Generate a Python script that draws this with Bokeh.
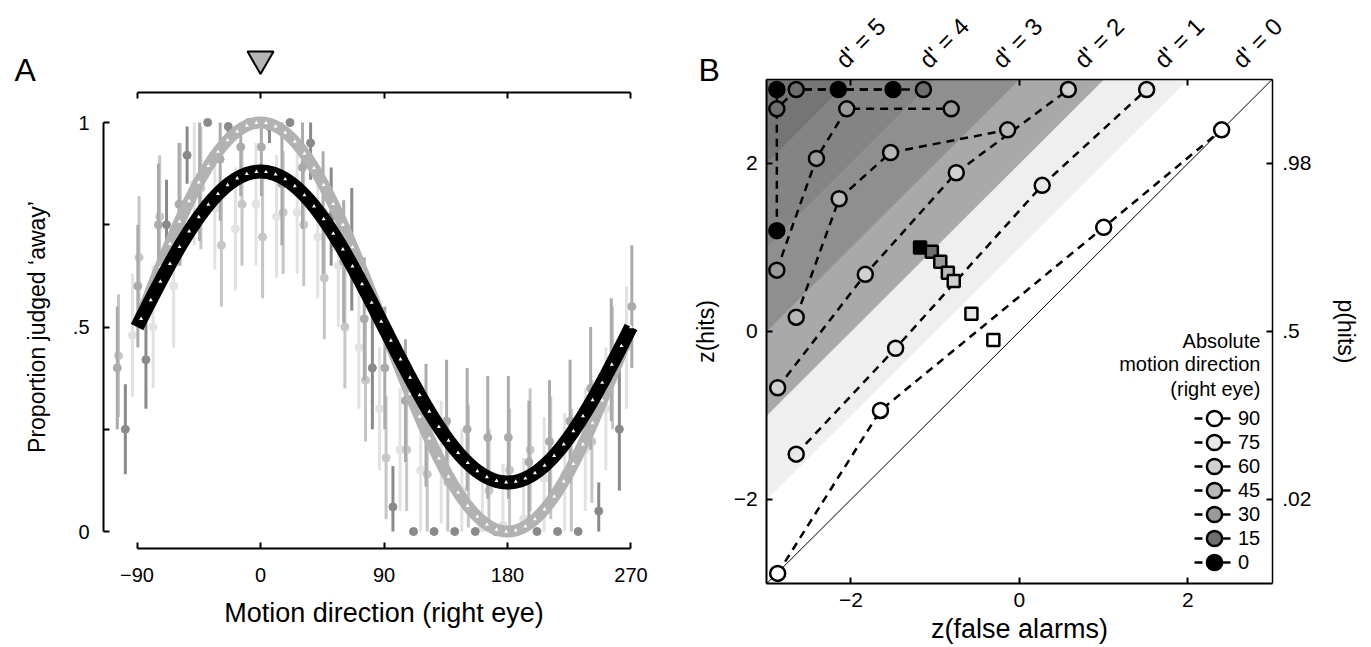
import numpy as np
from bokeh.plotting import figure
from bokeh.models import (LinearAxis, FixedTicker, Range1d, Label, LabelSet, ColumnDataSource,
                          Legend, LegendItem)
from bokeh.layouts import row
from bokeh.embed import file_html
from bokeh.resources import INLINE
from bokeh.core.properties import value

FONT = "Liberation Sans"

# ---------------- Panel A data ----------------
dir_ticks = [-90, 0, 90, 180, 270]
dir_tick_labels = ["\u221290", "0", "90", "180", "270"]
prop_ticks = [0, 0.5, 1]
prop_tick_labels = ["0", ".5", "1"]
prop_minor_ticks = [0.25, 0.75]
reference_direction = [0]

dark_x = [-98.5, -83.5, -68.5, -53.5, -38.5, -23.5, -8.5, 6.5, 21.5, 36.5, 51.5, 66.5, 81.5,
          96.5, 111.5, 126.5, 141.5, 156.5, 171.5, 186.5, 201.5, 216.5, 231.5, 246.5, 261.5]
dark_y = [0.25, 0.42, 0.75, 0.92, 1.0, 0.99, 1.0, 0.99, 1.0, 0.95, 0.77, 0.69, 0.40,
          0.06, 0, 0, 0, 0, 0, 0, 0, 0, 0, 0.05, 0.25]
dark_err = [0.11, 0.12, 0.11, 0.07, 0, 0.04, 0, 0.04, 0, 0.09, 0.12, 0.15, 0.15,
            0.1, 0, 0, 0, 0, 0, 0, 0, 0, 0, 0.07, 0.15]

mid_x = [-104.4, -89.4, -74.4, -59.4, -44.4, -29.4, -14.4, 0.6, 15.6, 30.6, 45.6, 60.6, 75.6,
         90.6, 105.6, 120.6, 135.6, 150.6, 165.6, 180.6, 195.6, 210.6, 225.6, 240.6, 255.6, 270.6]
mid_y = [0.40, 0.60, 0.75, 0.80, 0.86, 0.91, 0.94, 0.94, 0.85, 0.89, 0.78, 0.66, 0.52,
         0.40, 0.32, 0.26, 0.27, 0.25, 0.23, 0.23, 0.17, 0.22, 0.27, 0.35, 0.42, 0.55]
mid_err = [0.15, 0.15, 0.15, 0.15, 0.15, 0.15, 0.12, 0.12, 0.15, 0.15, 0.15, 0.15, 0.15,
           0.15, 0.15, 0.15, 0.15, 0.15, 0.15, 0.15, 0.15, 0.15, 0.15, 0.15, 0.15, 0.15]

light_x = [-103.5, -88.5, -73.5, -58.5, -43.5, -28.5, -13.5, 1.5, 16.5, 31.5, 46.5, 61.5, 76.5,
           91.5, 106.5, 121.5, 136.5, 151.5, 166.5, 181.5, 196.5, 211.5, 226.5, 241.5, 256.5]
light_y = [0.43, 0.67, 0.77, 0.80, 0.84, 0.70, 0.80, 0.72, 0.78, 0.75, 0.62, 0.50, 0.37,
           0.18, 0.20, 0.14, 0.12, 0.16, 0.10, 0.15, 0.20, 0.18, 0.15, 0.22, 0.40]
light_err = [0.15] * 25

vlight_x = [-93.3, -78.3, -63.3, -48.3, -33.3, -18.3, -3.3, 11.7, 26.7, 41.7, 56.7, 71.7, 86.7,
            101.7, 116.7, 131.7, 146.7, 161.7, 176.7, 191.7, 206.7, 221.7, 236.7, 251.7, 266.7]
vlight_y = [0.48, 0.50, 0.60, 0.85, 0.79, 0.74, 0.80, 0.77, 0.78, 0.72, 0.65, 0.45, 0.30,
            0.20, 0.15, 0.17, 0.10, 0.01, 0.015, 0.03, 0.13, 0.14, 0.20, 0.30, 0.45]
vlight_err = [0.15] * 25

# fitted sinusoids: baseline, amplitude (peak at 0 deg)
fit_gray_params = [0.5, 0.50]
fit_black_params = [0.5, 0.38]

# ---------------- Panel B data ----------------
z_limits = [-3, 3]
z_ticks = [-2, 0, 2]
z_tick_labels = ["\u22122", "0", "2"]
p_tick_labels = [".02", ".5", ".98"]
dprime_names = ["d' = 5", "d' = 4", "d' = 3", "d' = 2", "d' = 1", "d' = 0"]
dprime_label_x = [-2.02, -1.03, -0.16, 0.81, 1.76, 2.69]
dprime_label_y = [3.075] * 6
band_edges = [1, 2, 3, 4, 5, 6]
band_colors = ["#efefef", "#a9a9a9", "#8f8f8f", "#848484", "#757575"]

directions = [90, 75, 60, 45, 30, 15, 0]
direction_fill = ["#ffffff", "#e8e8e8", "#d0d0d0", "#b8b8b8", "#9a9a9a", "#6e6e6e", "#000000"]

# one dashed curve per absolute direction: z(false alarms), z(hits)
fa_90 = [-2.87, -1.65, 1.00, 2.40]
hit_90 = [-2.88, -0.94, 1.24, 2.40]
fa_75 = [-2.65, -1.47, 0.27, 1.51]
hit_75 = [-1.46, -0.20, 1.74, 2.88]
fa_60 = [-2.87, -1.83, -0.75, 0.58]
hit_60 = [-0.67, 0.68, 1.89, 2.88]
fa_45 = [-2.65, -2.14, -1.53, -0.14]
hit_45 = [0.17, 1.58, 2.13, 2.40]
fa_30 = [-2.88, -2.41, -2.05, -0.81]
hit_30 = [0.73, 2.06, 2.65, 2.65]
fa_15 = [-2.88, -2.65, -1.14]
hit_15 = [2.65, 2.88, 2.88]
fa_0 = [-2.88, -2.88, -2.15, -1.50]
hit_0 = [1.20, 2.88, 2.88, 2.88]

square_fa = [-1.18, -1.04, -0.94, -0.85, -0.78, -0.57, -0.31]
square_hit = [1.00, 0.95, 0.83, 0.70, 0.60, 0.21, -0.10]
square_dir = [0, 15, 30, 45, 60, 75, 90]

legend_title_lines = ["Absolute", "motion direction", "(right eye)"]
legend_title_y = [-0.11, -0.39, -0.69]

FIG_H = 645


def style_axis(ax, tick_size="20px", label_size="27px"):
    ax.axis_line_width = 2
    ax.axis_line_color = "black"
    ax.major_tick_line_width = 2
    ax.major_tick_in = 6
    ax.major_tick_out = 0
    ax.minor_tick_in = 0
    ax.minor_tick_out = 0
    ax.major_label_text_font = FONT
    ax.major_label_text_font_size = tick_size
    ax.major_label_text_color = "black"
    ax.axis_label_text_font = FONT
    ax.axis_label_text_font_size = label_size
    ax.axis_label_text_font_style = "normal"
    ax.axis_label_text_color = "black"


# ================= Panel A =================
pa = figure(width=660, height=FIG_H, x_range=Range1d(-189.5, 291.5), y_range=Range1d(-0.2787, 1.2983),
            output_backend="svg", toolbar_location=None, x_axis_location=None, y_axis_location=None,
            min_border=0)
pa.frame_align = False
pa.outline_line_color = None
pa.grid.visible = False

ya = LinearAxis(bounds=(0, 1), ticker=FixedTicker(ticks=prop_ticks, minor_ticks=prop_minor_ticks),
                major_label_overrides=dict(zip(prop_ticks, prop_tick_labels)),
                axis_label="Proportion judged \u2018away\u2019", fixed_location=-114.4)
style_axis(ya, label_size="23px")
ya.minor_tick_in = 6
ya.minor_tick_line_width = 2
ya.major_label_standoff = 14
ya.axis_label_standoff = 20
pa.add_layout(ya, "left")

xa = LinearAxis(bounds=(-90, 270), ticker=FixedTicker(ticks=dir_ticks),
                major_label_overrides=dict(zip(dir_ticks, dir_tick_labels)),
                axis_label="Motion direction (right eye)", fixed_location=-0.0416)
style_axis(xa)
xa.major_label_standoff = 19
xa.axis_label_standoff = 13
pa.add_layout(xa, "below")

ta = LinearAxis(bounds=(-90, 270), ticker=FixedTicker(ticks=dir_ticks), fixed_location=1.073)
style_axis(ta)
ta.major_label_text_color = None
pa.add_layout(ta, "above")

series = [
    (vlight_x, vlight_y, vlight_err, "#e2e2e2"),
    (light_x, light_y, light_err, "#c6c6c6"),
    (mid_x, mid_y, mid_err, "#ababab"),
    (dark_x, dark_y, dark_err, "#8a8a8a"),
]
for sx, sy, se, col in series:
    sx = np.array(sx); sy = np.array(sy); se = np.array(se)
    m = se > 0
    pa.segment(x0=sx[m], y0=np.clip(sy[m] - se[m], 0, 1), x1=sx[m], y1=np.clip(sy[m] + se[m], 0, 1),
               line_color=col, line_width=3)
    pa.scatter(x=sx, y=sy, size=8, fill_color=col, line_color=col, marker="circle")

fit_x = np.arange(-90, 271, 1.0)
for (base, amp), col, w in [(fit_gray_params, "#b2b2b2", 12), (fit_black_params, "black", 14)]:
    fy = base + amp * np.cos(np.radians(fit_x))
    pa.line(fit_x, fy, line_color=col, line_width=w)
    tx = fit_x[3::7]
    ty = base + amp * np.cos(np.radians(tx))
    pa.scatter(tx, ty, marker="triangle", size=4, fill_color="white", line_color=None)

pa.scatter(x=reference_direction, y=[1.155], marker="inverted_triangle", size=26,
           fill_color="#b5b5b5", line_color="black", line_width=2)
pa.add_layout(Label(x=-179.3, y=1.129, text="A", text_font=FONT, text_font_size="32px",
                    text_color="black", text_baseline="middle", text_align="left"))

# ================= Panel B =================
pb = figure(width=703, height=FIG_H, x_range=Range1d(-4.261, 4.084), y_range=Range1d(-3.738, 3.940),
            output_backend="svg", toolbar_location=None, x_axis_location=None, y_axis_location=None,
            min_border=0)
pb.frame_align = False
pb.grid.visible = False
pb.outline_line_color = None

band_xs, band_ys = [], []
for a, b in zip(band_edges[:-1], band_edges[1:]):
    band_xs.append([z_limits[0], z_limits[1] - a, z_limits[1] - b, z_limits[0]])
    band_ys.append([z_limits[0] + a, z_limits[1], z_limits[1], z_limits[0] + b])
pb.patches(band_xs, band_ys, fill_color=band_colors, line_color=band_colors, line_width=0.5)
pb.line(z_limits, z_limits, line_color="black", line_width=1)

lb = LinearAxis(ticker=FixedTicker(ticks=z_ticks), major_label_overrides=dict(zip(z_ticks, z_tick_labels)),
                axis_label="z(hits)", fixed_location=z_limits[0], bounds=tuple(z_limits))
style_axis(lb, tick_size="21px", label_size="23px")
lb.major_label_standoff = 9
lb.axis_label_standoff = 12
pb.add_layout(lb, "left")
bb = LinearAxis(ticker=FixedTicker(ticks=z_ticks), major_label_overrides=dict(zip(z_ticks, z_tick_labels)),
                axis_label="z(false alarms)", fixed_location=z_limits[0], bounds=tuple(z_limits))
style_axis(bb, tick_size="21px")
bb.major_label_standoff = 9
bb.axis_label_standoff = 4
pb.add_layout(bb, "below")
rb = LinearAxis(ticker=FixedTicker(ticks=z_ticks), major_label_overrides=dict(zip(z_ticks, p_tick_labels)),
                axis_label="p(hits)", fixed_location=z_limits[1], bounds=tuple(z_limits))
style_axis(rb, tick_size="21px", label_size="23px")
rb.axis_line_width = 1.5
rb.major_label_standoff = 10
rb.axis_label_standoff = 18
pb.add_layout(rb, "right")
tb = LinearAxis(ticker=FixedTicker(ticks=z_ticks), fixed_location=z_limits[1], bounds=tuple(z_limits))
style_axis(tb)
tb.axis_line_width = 1.5
tb.major_label_text_color = None
pb.add_layout(tb, "above")

curves = {90: (fa_90, hit_90), 75: (fa_75, hit_75), 60: (fa_60, hit_60), 45: (fa_45, hit_45),
          30: (fa_30, hit_30), 15: (fa_15, hit_15), 0: (fa_0, hit_0)}
line_rs = {}
for d in directions:
    cf, ch = curves[d]
    line_rs[d] = pb.line(cf, ch, line_color="black", line_width=2.5, line_dash="8 6",
                         line_dash_offset=7 if d == 15 else 0)
scatter_rs = {}
for d, col in zip(directions, direction_fill):
    cf, ch = curves[d]
    scatter_rs[d] = pb.scatter(cf, ch, marker="circle", size=15, fill_color=col, line_color="black",
                               line_width=2.5)

sq_cols = [direction_fill[directions.index(d)] for d in square_dir]
pb.scatter(square_fa, square_hit, marker="square", size=12, fill_color=sq_cols, line_color="black",
           line_width=2.5)

# legend: one entry per direction, stacked with a 24 px pitch (entry 0 at the bottom)
LEG_X, LEG_BOTTOM, LEG_PITCH = 534, 64, 24
for i, d in enumerate(directions):
    lg = Legend(items=[LegendItem(label=str(d), renderers=[line_rs[90], scatter_rs[d]])],
                location=(LEG_X, LEG_BOTTOM + (len(directions) - 1 - i) * LEG_PITCH),
                glyph_width=40, glyph_height=38, label_height=20, padding=0, margin=0,
                label_standoff=4, label_text_font=FONT, label_text_font_size="20px",
                label_text_color="black", border_line_color=None, background_fill_alpha=0)
    pb.add_layout(lg)

for txt, ty in zip(legend_title_lines, legend_title_y):
    pb.add_layout(Label(x=2.86, y=ty, text=txt, text_font=FONT, text_font_size="20px",
                        text_color="black", text_align="right", text_baseline="middle"))

dsrc = ColumnDataSource(dict(x=dprime_label_x, y=dprime_label_y, t=dprime_names))
pb.add_layout(LabelSet(x="x", y="y", text="t", source=dsrc, angle=np.pi / 4, text_font=value(FONT),
                       text_font_size=value("24px"), text_color="black",
                       text_align="left", text_baseline="bottom"))
pb.add_layout(Label(x=-3.81, y=3.116, text="B", text_font=FONT, text_font_size="32px",
                    text_color="black", text_baseline="middle", text_align="left"))

layout = row(pa, pb)
open("out.html", "w").write(file_html(layout, INLINE))
